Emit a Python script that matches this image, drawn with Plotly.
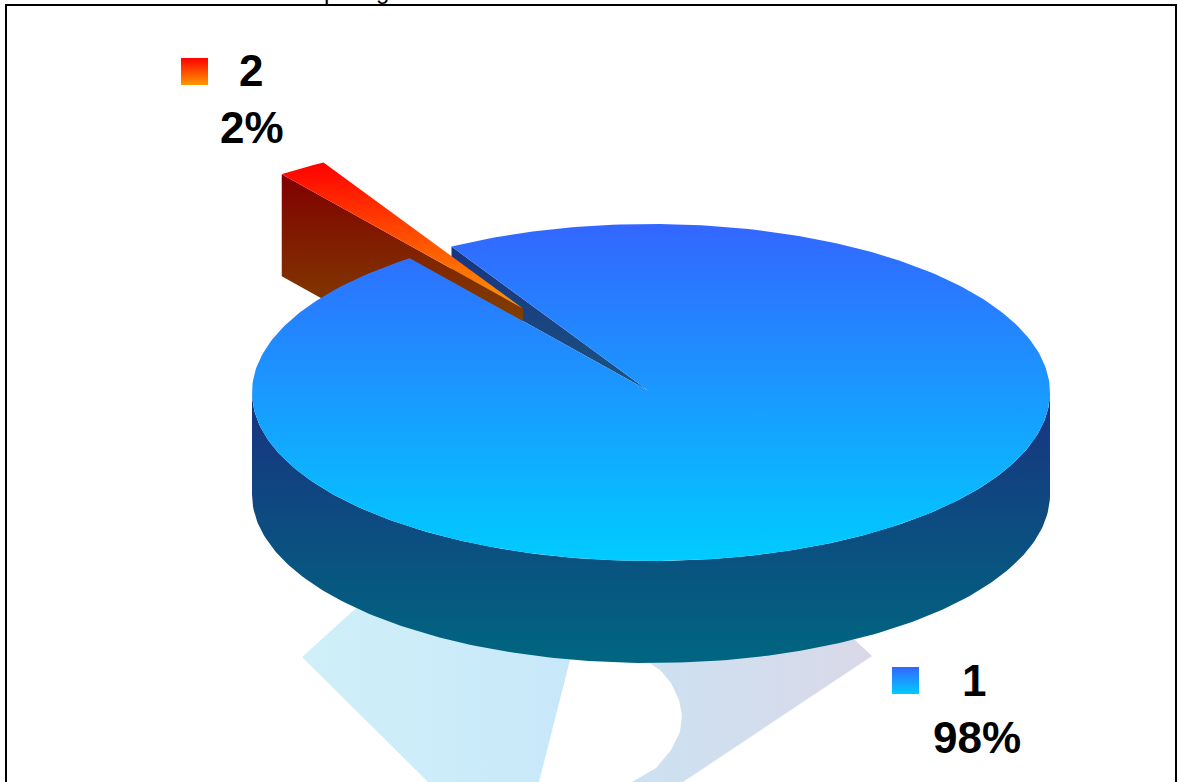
import numpy as np
import plotly.graph_objects as go

categories = ["1", "2"]
values = [98, 2]
percent_labels = ["98%", "2%"]
first_slice_angle = 330

WIDTH, HEIGHT = 1177, 782
CX, CY, RX, RY, DEPTH = 651, 392.5, 399, 168.5, 102
EXPLODE = (-128, -84)
FONT = "Liberation Sans"

BLUE_TOP = ["#3366FF", "#00CCFF"]
BLUE_SIDE = ["#193380", "#006680"]
RED_TOP = ["#FF0000", "#FF9900"]
RED_SIDE = ["#800000", "#804000"]


def rim(deg):
    d = np.radians(np.asarray(deg, dtype=float))
    return CX + RX * np.sin(d), CY - RY * np.cos(d)


def add_poly(fig, x, y, colors, start=None, stop=None, kind="vertical"):
    x, y = list(x), list(y)
    if start is None:
        start, stop = min(y), max(y)
    grad = dict(type=kind, colorscale=[[0, colors[0]], [1, colors[1]]], start=start, stop=stop)
    fig.add_trace(go.Scatter(
        x=x, y=y, mode="lines", fill="toself", fillgradient=grad,
        line=dict(width=0), hoverinfo="skip", showlegend=False,
    ))


fig = go.Figure()

# watermark behind the pie
add_poly(fig, [302, 365, 640, 570, 539, 428], [657, 600, 600, 660, 782, 782],
         ["#CFF0F8", "#C8E8FA"], 302, 570, "horizontal")
add_poly(fig, [640, 648, 660, 671, 679, 682, 680, 671, 656, 632, 683, 872, 855, 700],
         [640, 662, 670, 683, 700, 715, 732, 750, 768, 782, 782, 656, 640, 620],
         ["#CCE2F2", "#D9D8E8"], 632, 872, "horizontal")

total = sum(values)
sweep_1 = 360 * values[0] / total
a0 = first_slice_angle
a1 = first_slice_angle + sweep_1
theta_1 = np.linspace(a0, a1, 361)
theta_2 = np.linspace(a1, a0 + 360, 20)

# blue notch wall, cut face of slice 1 at its starting edge
sx, sy = rim(a0)
ex, ey = rim(a1)
apex_x, apex_y = CX - 3, CY - 2
add_poly(fig, [sx, apex_x, sx],
         [sy, apex_y, apex_y + (ey - apex_y) * (apex_x - sx) / (apex_x - ex)],
         ["#193380", "#1A5480"])

# exploded slice 2: cut face, hidden below the blue top by drawing order
ox, oy = EXPLODE
px, py = ex + ox, ey + oy
apx, apy = CX + ox, CY + oy
add_poly(fig, [px, apx, apx, px], [py, apy, apy + DEPTH, py + DEPTH],
         RED_SIDE, py, apy + 14)

# blue side wall
side_t = np.linspace(90, 270, 181)
tx, ty = rim(side_t)
add_poly(fig, np.r_[tx, tx[::-1]], np.r_[ty, ty[::-1] + DEPTH], BLUE_SIDE)

# blue top
bx, by = rim(theta_1)
add_poly(fig, np.r_[apex_x, bx], np.r_[apex_y, by], BLUE_TOP, CY - RY, CY + RY)

# red top
rx_, ry_ = rim(theta_2)
add_poly(fig, np.r_[apx, rx_ + ox], np.r_[apy, ry_ + oy], RED_TOP)

# legend keys
add_poly(fig, [181, 208, 208, 181], [58, 58, 85, 85], RED_TOP)
add_poly(fig, [892, 919, 919, 892], [667, 667, 694, 694], BLUE_TOP)


def label(text, x, y, size=44, bold=True, yshift=0):
    fig.add_annotation(
        x=x, y=y, xref="x", yref="y", text=f"<b>{text}</b>" if bold else text,
        showarrow=False, xanchor="center", yanchor="middle", yshift=yshift,
        font=dict(family=FONT, size=size, color="#000000"),
    )


label(categories[1], 251, 70)
label(percent_labels[1], 252, 127)
label(categories[0], 974, 680)
label(percent_labels[0], 977, 737)
label("p", 330, 0, 24, False, yshift=10)
label("g", 382, 0, 24, False, yshift=10)

fig.add_shape(type="rect", xref="x", yref="y", x0=6, y0=5, x1=1176, y1=800,
              line=dict(color="#000000", width=2), fillcolor="rgba(0,0,0,0)")

fig.update_layout(
    width=WIDTH, height=HEIGHT, margin=dict(l=0, r=0, t=0, b=0),
    paper_bgcolor="#FFFFFF", plot_bgcolor="#FFFFFF", showlegend=False,
    xaxis=dict(range=[0, WIDTH], visible=False, fixedrange=True),
    yaxis=dict(range=[HEIGHT, 0], visible=False, fixedrange=True),
)
fig.write_html("out.html", config=dict(displayModeBar=False, responsive=False),
               post_script="document.body.style.margin='0';document.body.style.overflow='hidden';")
